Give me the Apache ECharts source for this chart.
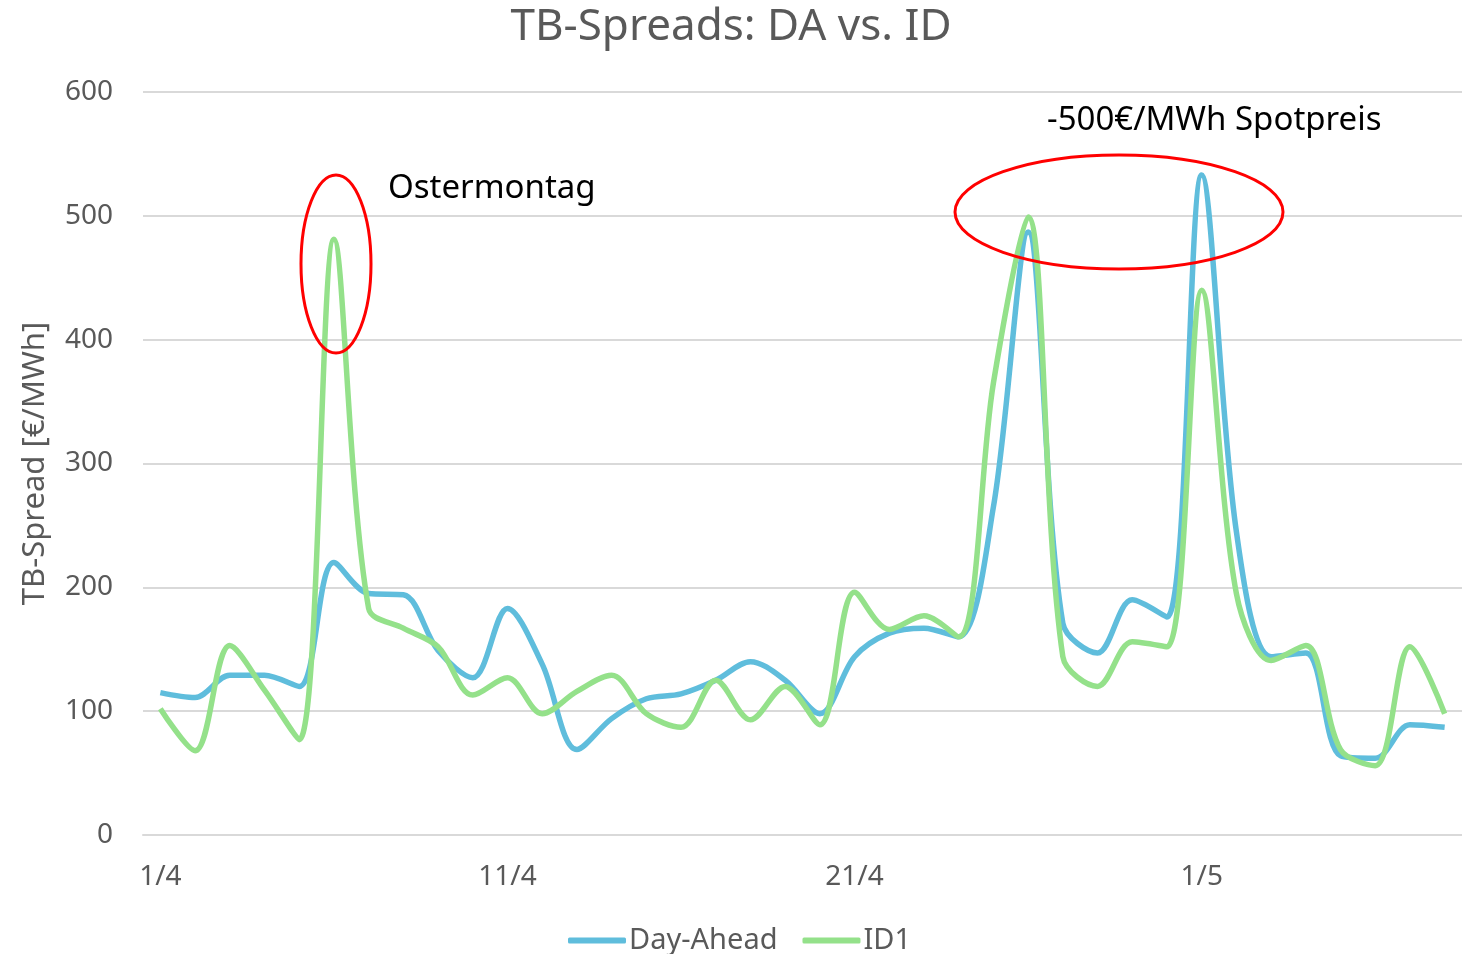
<!DOCTYPE html>
<html>
<head>
<meta charset="utf-8">
<script src="https://cdn.jsdelivr.net/npm/echarts@6/dist/echarts.min.js"></script>
<style>html,body{margin:0;padding:0;background:#fff}#c{width:1462px;height:954px}</style>
</head>
<body>
<div id="c"></div>
<script>
var categories = ["1/4","2/4","3/4","4/4","5/4","6/4","7/4","8/4","9/4","10/4","11/4","12/4","13/4","14/4","15/4","16/4","17/4","18/4","19/4","20/4","21/4","22/4","23/4","24/4","25/4","26/4","27/4","28/4","29/4","30/4","1/5","2/5","3/5","4/5","5/5","6/5","7/5","8/5"];
var dayAhead = [115,111,129,129,120,220,195,194,149,127,183,138,69,94,110,114,125,140,125,98,144,163,167,160,265,487,171,147,190,176,533,245,144,147,64,62,89,87];
var id1 = [102,68,153,117,77,481,183,167,152,113,127,98,116,129,98,87,125,93,120,89,196,166,177,160,365,499,144,120,156,152,440,195,141,153,69,56,152,98];
var yTicks = [0,100,200,300,400,500,600];

var FONT = '"Noto Sans", sans-serif';
var GRAY = '#595959';
var chart = echarts.init(document.getElementById('c'), null, {renderer:'canvas'});
chart.setOption({
  animation:false,
  backgroundColor:'#ffffff',
  title:{text:'TB-Spreads: DA vs. ID', left:'center', top:0,
    textStyle:{fontFamily:FONT, fontSize:44, fontWeight:'normal', color:GRAY}},
  grid:{left:143, right:0, top:92, bottom:119, containLabel:false},
  legend:{top:921, left:563, icon:'roundRect', itemWidth:58, itemHeight:6, itemGap:25,
    textStyle:{fontFamily:FONT, fontSize:29, color:GRAY, padding:[0,0,0,-2]},
    data:['Day-Ahead','ID1']},
  xAxis:{type:'category', data:categories, boundaryGap:true,
    axisLine:{show:true, lineStyle:{color:'#D9D9D9', width:2}},
    axisTick:{show:false},
    axisLabel:{interval:9, fontFamily:FONT, fontSize:28, color:GRAY, margin:28}},
  yAxis:{type:'value', min:yTicks[0], max:yTicks[yTicks.length-1], interval:100,
    name:'TB-Spread [€/MWh]', nameLocation:'middle', nameGap:92, nameRotate:90,
    nameTextStyle:{fontFamily:FONT, fontSize:31, color:GRAY},
    axisLine:{show:false}, axisTick:{show:false},
    axisLabel:{fontFamily:FONT, fontSize:28, color:GRAY, margin:30},
    splitLine:{lineStyle:{color:'#D9D9D9', width:2}}},
  series:[
    {name:'Day-Ahead', type:'line', data:dayAhead, smooth:0.33, showSymbol:false,
      lineStyle:{color:'#5FBDDC', width:5.5}, itemStyle:{color:'#5FBDDC'}, z:2},
    {name:'ID1', type:'line', data:id1, smooth:0.33, showSymbol:false,
      lineStyle:{color:'#94E18A', width:5.5}, itemStyle:{color:'#94E18A'}, z:3}
  ],
  graphic:[
    {type:'ellipse', shape:{cx:336, cy:264, rx:35, ry:89}, style:{fill:null, stroke:'#FF0000', lineWidth:3}, z:10},
    {type:'ellipse', shape:{cx:1119, cy:212, rx:164, ry:57}, style:{fill:null, stroke:'#FF0000', lineWidth:3}, z:10},
    {type:'text', left:388, top:172, style:{text:'Ostermontag', font:'33px "Noto Sans", sans-serif', fill:'#000000'}, z:10},
    {type:'text', left:1047, top:104, style:{text:'-500€/MWh Spotpreis', font:'33px "Noto Sans", sans-serif', fill:'#000000'}, z:10}
  ]
});
</script>
</body>
</html>
